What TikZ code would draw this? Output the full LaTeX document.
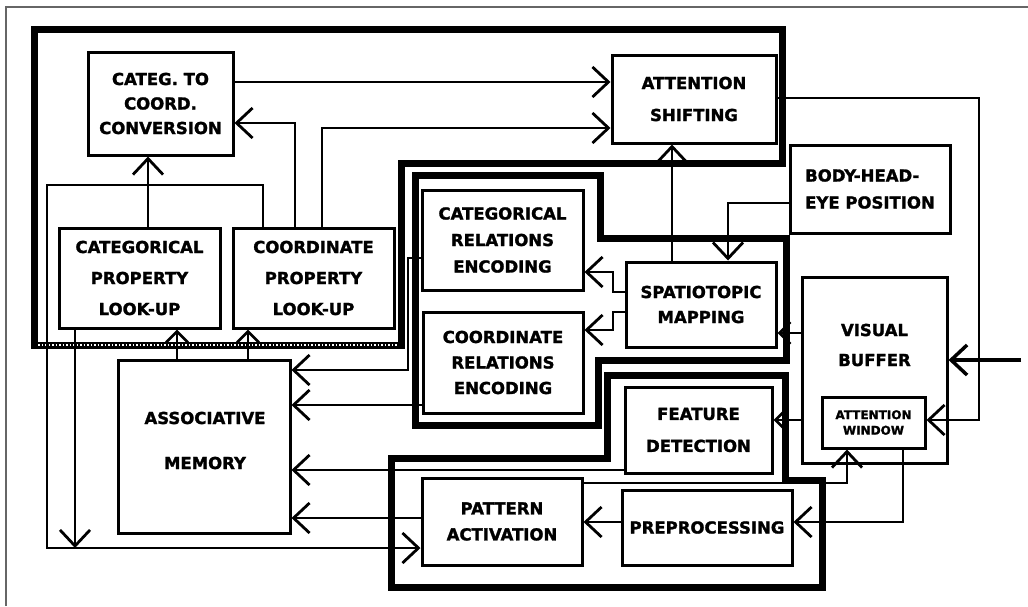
\documentclass[tikz,border=0pt]{standalone}
\usepackage{fontspec}
\setmainfont{DejaVu Sans}[BoldFeatures={FakeBold=1.6}]
\usetikzlibrary{arrows.meta}
\tikzset{
  x=1pt, y=-1pt,
  box/.style={draw, line width=3pt, inner sep=0pt, align=center,
    font=\bfseries\fontsize{16.5}{31}\selectfont},
  lbl/.style={inner sep=0pt, align=center, font=\bfseries\fontsize{16.5}{30}\selectfont},
  grp/.style={line width=7pt, line join=miter},
  conn/.style={line width=2.8pt, line join=miter},
  big/.style={conn, -{Straight Barb[length=16pt,width=30pt]}},
  mid/.style={conn, -{Straight Barb[length=11pt,width=22pt]}},
}
\begin{document}
\begin{tikzpicture}
\useasboundingbox (0,0) rectangle (1028,606);
% page frame
\draw[black!60, line width=1.2pt] (6,606) -- (6,7) -- (1028,7);

% group frames
\draw[grp] (34,345) -- (34,29) -- (782,29) -- (782,163) -- (401,163) -- (401,345) -- cycle;
\draw[white, line width=1.6pt, dash pattern=on 1.5pt off 2pt] (38,345) -- (397,345);
\draw[grp] (415,175) -- (600,175) -- (600,238) -- (786,238) -- (786,360) -- (598,360) -- (598,425) -- (415,425) -- cycle;
\draw[grp] (607,375) -- (785,375) -- (785,480) -- (822,480) -- (822,587) -- (391,587) -- (391,458) -- (607,458) -- cycle;

% boxes
\node[box, minimum width=145, minimum height=103, font=\bfseries\fontsize{16.5}{24.5}\selectfont] (conv) at (160.5,103.5) {CATEG. TO\\COORD.\\CONVERSION};
\node[box, minimum width=164, minimum height=88, font=\bfseries\fontsize{16.5}{32}\selectfont] (attn) at (694,99) {ATTENTION\\SHIFTING};
\node[box, minimum width=161, minimum height=100] (catlu) at (139.5,278) {CATEGORICAL\\PROPERTY\\LOOK-UP};
\node[box, minimum width=161, minimum height=100] (coordlu) at (313.5,278) {COORDINATE\\PROPERTY\\LOOK-UP};
\node[box, minimum width=160, minimum height=88, align=left, font=\bfseries\fontsize{16.5}{27}\selectfont] (bhe) at (870,189) {BODY-HEAD-\\EYE POSITION};
\node[box, minimum width=161, minimum height=100, font=\bfseries\fontsize{16.5}{26.5}\selectfont] (catrel) at (502.5,240) {CATEGORICAL\\RELATIONS\\ENCODING};
\node[box, minimum width=160, minimum height=101, font=\bfseries\fontsize{16.5}{25.5}\selectfont] (coordrel) at (503,362.5) {COORDINATE\\RELATIONS\\ENCODING};
\node[box, minimum width=150, minimum height=85, font=\bfseries\fontsize{16.5}{25}\selectfont] (spat) at (701,304.5) {SPATIOTOPIC\\MAPPING};
\node[box, minimum width=145, minimum height=186] (vb) at (874.5,370) {};
\node[lbl] (vbtext) at (874.5,345) {VISUAL\\BUFFER};
\node[box, minimum width=103, minimum height=51, font=\bfseries\fontsize{12}{15.5}\selectfont] (aw) at (873.5,422.5) {ATTENTION\\WINDOW};
\node[box, minimum width=172, minimum height=173] (assoc) at (204,446.5) {};
\node[lbl, font=\bfseries\fontsize{16.5}{45}\selectfont] (assoctext) at (205,440.5) {ASSOCIATIVE\\MEMORY};
\node[box, minimum width=147, minimum height=86, font=\bfseries\fontsize{16.5}{32}\selectfont] (feat) at (698.5,430) {FEATURE\\DETECTION};
\node[box, minimum width=160, minimum height=87, font=\bfseries\fontsize{16.5}{26}\selectfont] (patt) at (502,521.5) {PATTERN\\ACTIVATION};
\node[box, minimum width=170, minimum height=75] (prep) at (707,527.5) {PREPROCESSING};

% junction / free ends
\coordinate (j1) at (75,548);
\coordinate (input) at (1021,360);

% connectors
\draw[big] (conv.east|-0,82) -- (attn.west|-0,82);
\draw[big] (295,0|-coordlu.north) -- (295,123) -- (conv.east|-0,123);
\draw[big] (322,0|-coordlu.north) -- (322,128) -- (attn.west|-0,128);
\draw[big] (148,0|-catlu.north) -- (148,0|-conv.south);
\draw[big] (263,0|-coordlu.north) -- (263,185) -- (47,185) -- (47,548) -- (patt.west|-0,548);
\draw[big] (75,0|-catlu.south) -- (j1);
\draw[mid] (177,0|-assoc.north) -- (177,0|-catlu.south);
\draw[mid] (248,0|-assoc.north) -- (248,0|-coordlu.south);
\draw[big] (catrel.west|-0,258) -- (408,258) -- (408,370) -- (assoc.east|-0,370);
\draw[big] (coordrel.west|-0,405) -- (assoc.east|-0,405);
\draw[big] (feat.west|-0,470) -- (assoc.east|-0,470);
\draw[big] (patt.west|-0,518) -- (assoc.east|-0,518);
\draw[big] (prep.west|-0,522) -- (patt.east|-0,522);
\draw[big] (patt.east|-0,483) -- (847,483) -- (847,0|-aw.south);
\draw[big] (903,0|-aw.south) -- (903,522) -- (prep.east|-0,522);
\draw[big] (attn.east|-0,98) -- (979,98) -- (979,420) -- (aw.east|-0,420);
\draw[big, line width=3.5pt] (input) -- (vb.east|-input);
\draw[mid] (vb.west|-0,333) -- (spat.east|-0,333);
\draw[mid] (vb.west|-0,420) -- (feat.east|-0,420);
\draw[big] (bhe.west|-0,203) -- (728,203) -- (728,0|-spat.north);
\draw[big] (672,0|-spat.north) -- (672,0|-attn.south);
\draw[big] (spat.west|-0,292) -- (613,292) -- (613,272) -- (catrel.east|-0,272);
\draw[big] (spat.west|-0,312) -- (613,312) -- (613,330) -- (coordrel.east|-0,330);
\end{tikzpicture}
\end{document}
